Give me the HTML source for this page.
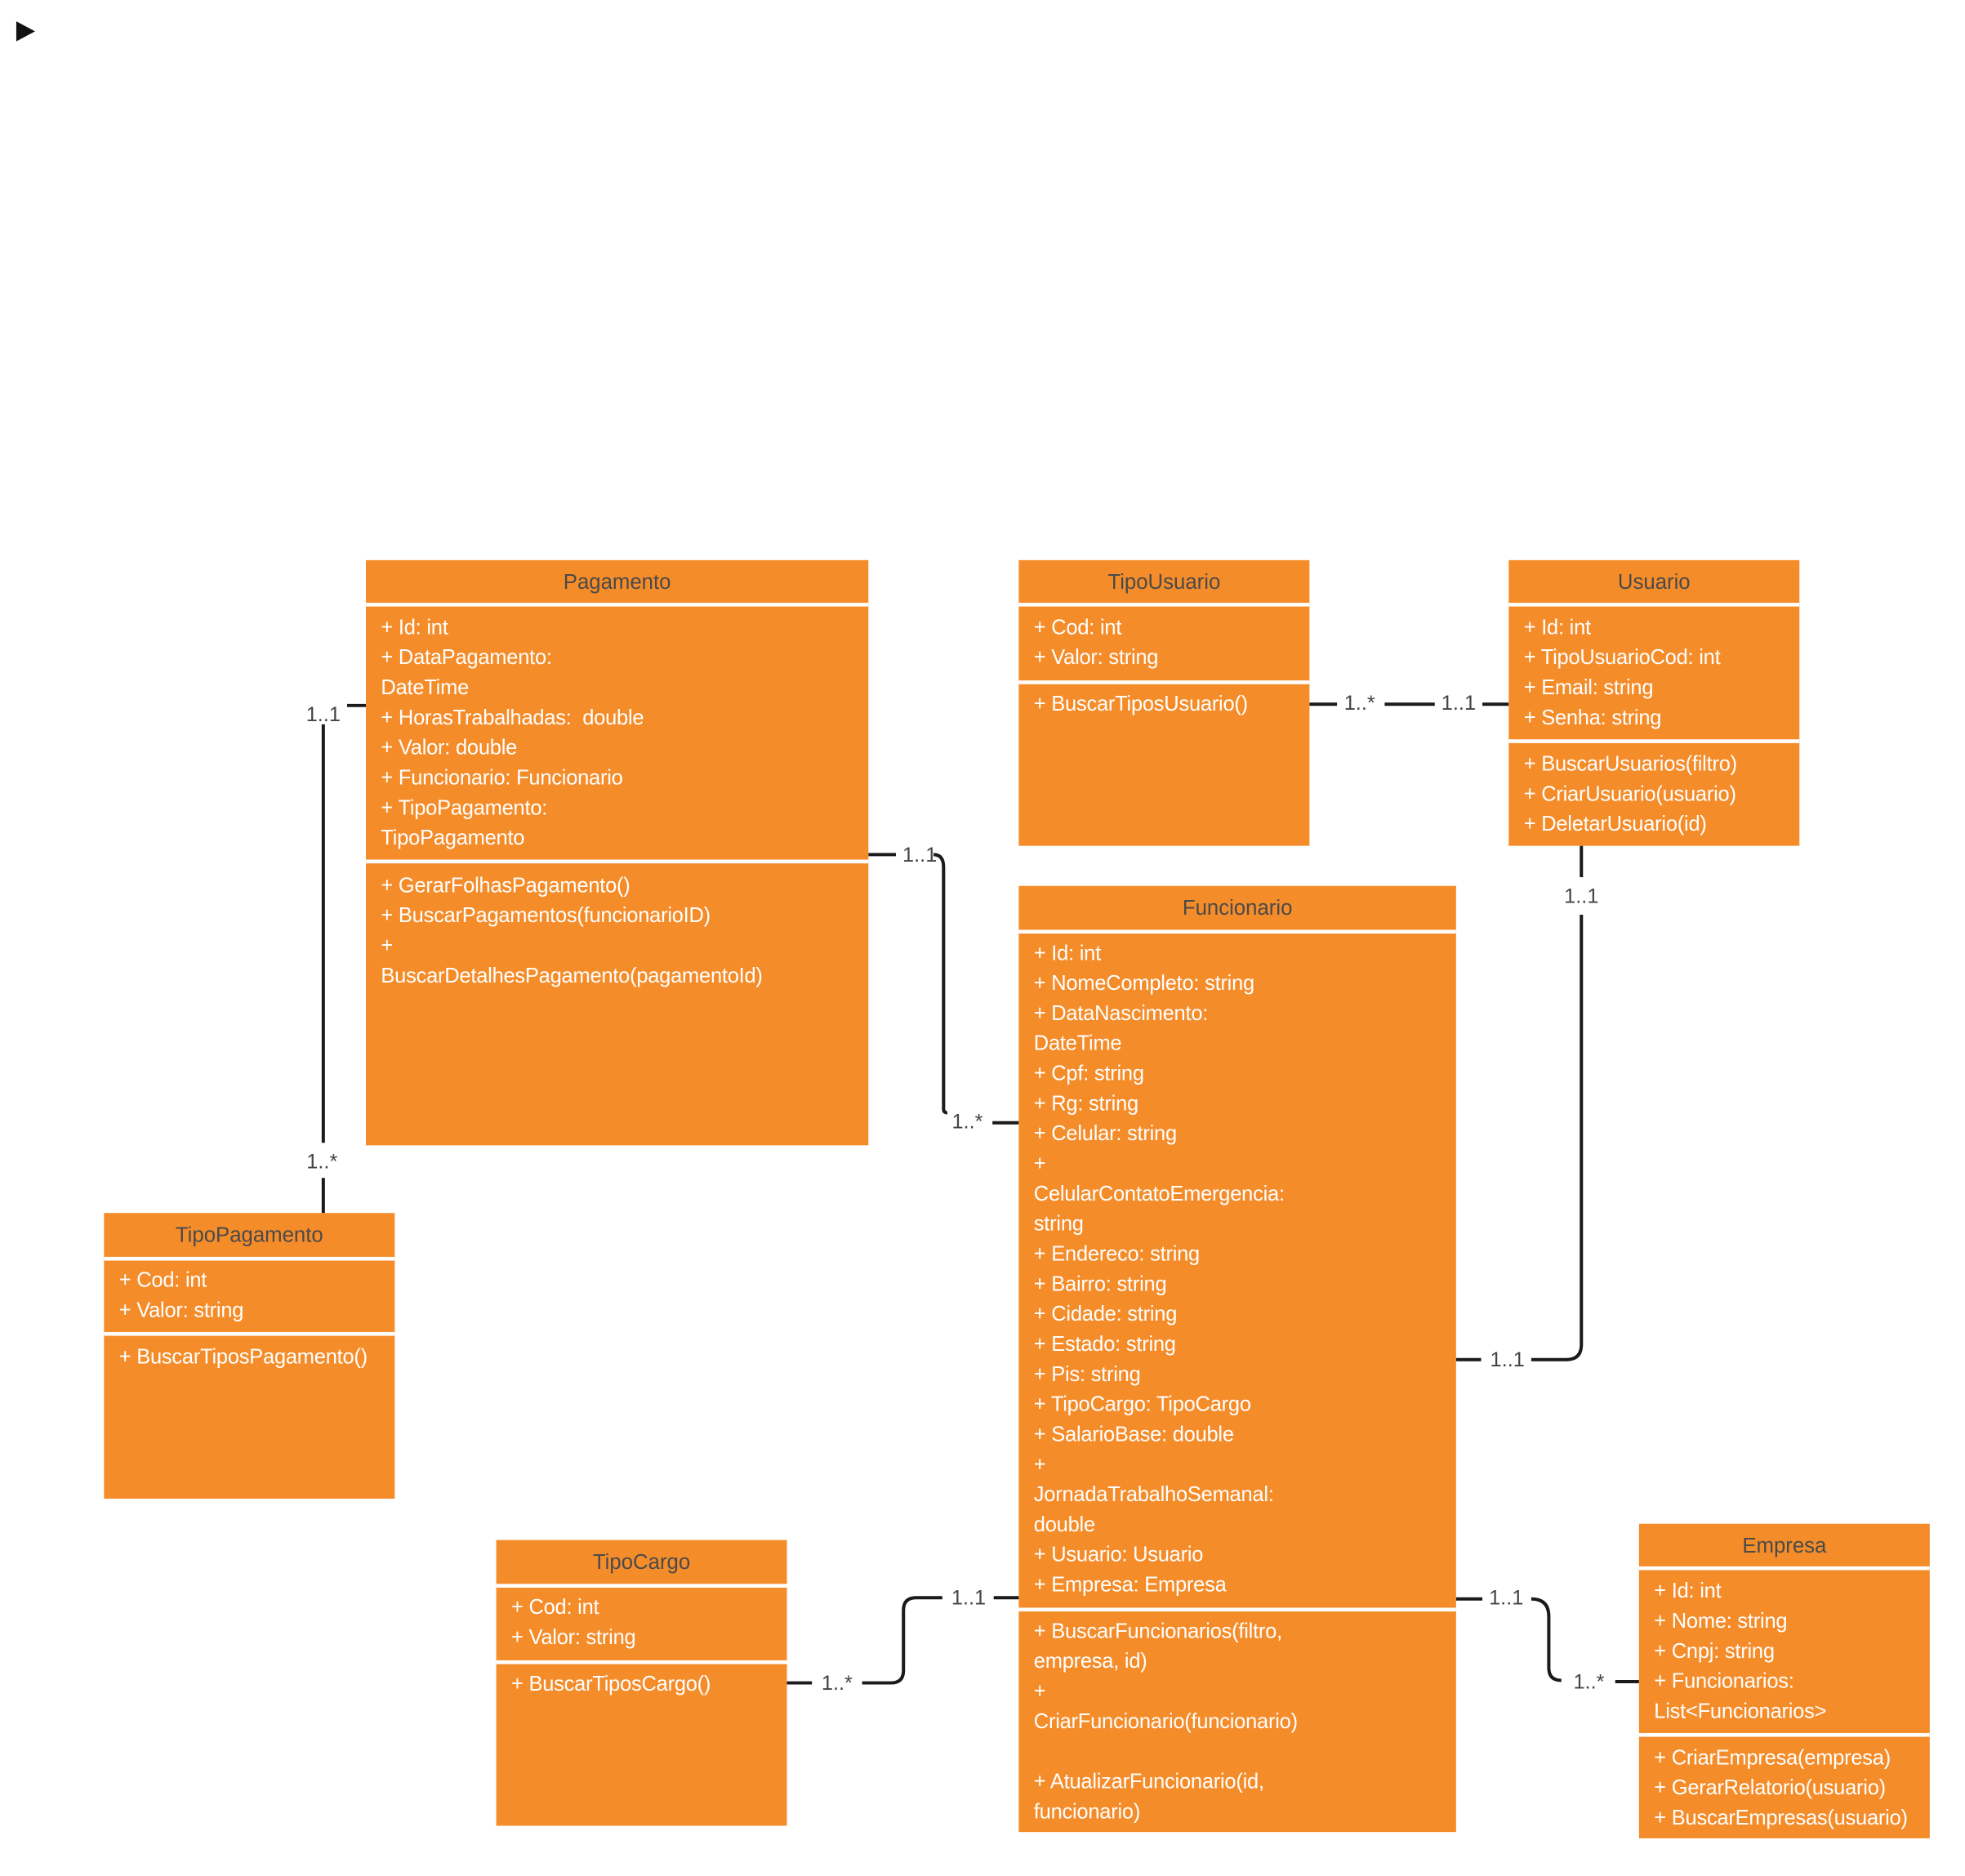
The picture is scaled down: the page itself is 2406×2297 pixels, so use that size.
<!DOCTYPE html>
<html><head><meta charset="utf-8">
<style>
html,body{margin:0;padding:0;background:#fff;}
body{width:2406px;height:2296px;overflow:hidden;position:relative;}
#stage{position:absolute;left:0;top:0;width:1568px;height:1497px;transform:scale(1.5343);transform-origin:0 0;font-family:"Liberation Sans",sans-serif;}
.box{position:absolute;background:#F58C2A;overflow:hidden;}
.hdr{position:absolute;left:0;right:0;top:0;height:34px;line-height:36px;text-align:center;color:#4a4a4a;font-size:16.8px;}
.sep{position:absolute;left:0;right:0;height:3px;background:#fff;}
.sec{position:absolute;left:12px;right:4px;color:#fff;font-size:16.6px;line-height:24px;letter-spacing:-0.15px;white-space:pre;}
.lbl{position:absolute;font-size:16.5px;color:#444;transform:translate(-50%,-50%);white-space:nowrap;}
svg{position:absolute;left:0;top:0;}
</style></head><body>
<div id="stage">
<svg width="1568" height="1497">
<polygon points="13,17 28,25 13,33" fill="#111"/>
<g fill="none" stroke="#1a1a1a" stroke-width="2.6">
<path d="M292,563 H277"/>
<path d="M258,578 V912"/>
<path d="M258,940 V968"/>
<path d="M693,682 H715"/>
<path d="M745,682 Q753,682 753,692 V885 Q753,888 756,888"/>
<path d="M792,896 H813"/>
<path d="M1045,562 H1067"/>
<path d="M1105,562 H1145"/>
<path d="M1183,562 H1204"/>
<path d="M1262,675 V700"/>
<path d="M1262,730 V1073 Q1262,1085 1250,1085 H1222"/>
<path d="M1162,1085 H1182"/>
<path d="M628,1343 H648"/>
<path d="M688,1343 H711 Q721,1343 721,1333 V1285 Q721,1275 731,1275 H752"/>
<path d="M793,1275 H813"/>
<path d="M1162,1276 H1183"/>
<path d="M1222,1276 Q1236,1276 1236,1290 V1331 Q1236,1341 1246,1341"/>
<path d="M1289,1342 H1308"/>
</g>
</svg>
<div class="lbl" style="left:258px;top:571px">1..1</div>
<div class="lbl" style="left:257px;top:928px">1..*</div>
<div class="lbl" style="left:734px;top:683px">1..1</div>
<div class="lbl" style="left:772px;top:896px">1..*</div>
<div class="lbl" style="left:1085px;top:562px">1..*</div>
<div class="lbl" style="left:1164px;top:562px">1..1</div>
<div class="lbl" style="left:1262px;top:716px">1..1</div>
<div class="lbl" style="left:1203px;top:1086px">1..1</div>
<div class="lbl" style="left:668px;top:1344px">1..*</div>
<div class="lbl" style="left:773px;top:1276px">1..1</div>
<div class="lbl" style="left:1202px;top:1276px">1..1</div>
<div class="lbl" style="left:1268px;top:1343px">1..*</div>

<div class="box" style="left:292px;top:447px;width:401px;height:467px">
<div class="hdr">Pagamento</div>
<div class="sep" style="top:34px"></div>
<div class="sec" style="top:42px">+ Id: int
+ DataPagamento:
DateTime
+ HorasTrabalhadas:  double
+ Valor: double
+ Funcionario: Funcionario
+ TipoPagamento:
TipoPagamento</div>
<div class="sep" style="top:239px"></div>
<div class="sec" style="top:248px">+ GerarFolhasPagamento()
+ BuscarPagamentos(funcionarioID)
+
BuscarDetalhesPagamento(pagamentoId)</div>
</div>

<div class="box" style="left:813px;top:447px;width:232px;height:228px">
<div class="hdr">TipoUsuario</div>
<div class="sep" style="top:34px"></div>
<div class="sec" style="top:42px">+ Cod: int
+ Valor: string</div>
<div class="sep" style="top:96px"></div>
<div class="sec" style="top:103px">+ BuscarTiposUsuario()</div>
</div>

<div class="box" style="left:1204px;top:447px;width:232px;height:228px">
<div class="hdr">Usuario</div>
<div class="sep" style="top:34px"></div>
<div class="sec" style="top:42px">+ Id: int
+ TipoUsuarioCod: int
+ Email: string
+ Senha: string</div>
<div class="sep" style="top:143px"></div>
<div class="sec" style="top:151px">+ BuscarUsuarios(filtro)
+ CriarUsuario(usuario)
+ DeletarUsuario(id)</div>
</div>

<div class="box" style="left:813px;top:707px;width:349px;height:755px">
<div class="hdr">Funcionario</div>
<div class="sep" style="top:35px"></div>
<div class="sec" style="top:42px">+ Id: int
+ NomeCompleto: string
+ DataNascimento:
DateTime
+ Cpf: string
+ Rg: string
+ Celular: string
+
CelularContatoEmergencia:
string
+ Endereco: string
+ Bairro: string
+ Cidade: string
+ Estado: string
+ Pis: string
+ TipoCargo: TipoCargo
+ SalarioBase: double
+
JornadaTrabalhoSemanal:
double
+ Usuario: Usuario
+ Empresa: Empresa</div>
<div class="sep" style="top:576px"></div>
<div class="sec" style="top:583px;right:104px;overflow:hidden">+ BuscarFuncionarios(filtro,
empresa, id)
+
CriarFuncionario(funcionario)

+ AtualizarFuncionario(id,
funcionario)
+ DeletarFuncionario(id)</div>
</div>

<div class="box" style="left:83px;top:968px;width:232px;height:228px">
<div class="hdr">TipoPagamento</div>
<div class="sep" style="top:35px"></div>
<div class="sec" style="top:42px">+ Cod: int
+ Valor: string</div>
<div class="sep" style="top:95px"></div>
<div class="sec" style="top:103px">+ BuscarTiposPagamento()</div>
</div>

<div class="box" style="left:396px;top:1229px;width:232px;height:228px">
<div class="hdr">TipoCargo</div>
<div class="sep" style="top:35px"></div>
<div class="sec" style="top:42px">+ Cod: int
+ Valor: string</div>
<div class="sep" style="top:96px"></div>
<div class="sec" style="top:103px">+ BuscarTiposCargo()</div>
</div>

<div class="box" style="left:1308px;top:1216px;width:232px;height:251px">
<div class="hdr">Empresa</div>
<div class="sep" style="top:34px"></div>
<div class="sec" style="top:42px">+ Id: int
+ Nome: string
+ Cnpj: string
+ Funcionarios:
List&lt;Funcionarios&gt;</div>
<div class="sep" style="top:167px"></div>
<div class="sec" style="top:175px">+ CriarEmpresa(empresa)
+ GerarRelatorio(usuario)
+ BuscarEmpresas(usuario)</div>
</div>
</div>
</body></html>
